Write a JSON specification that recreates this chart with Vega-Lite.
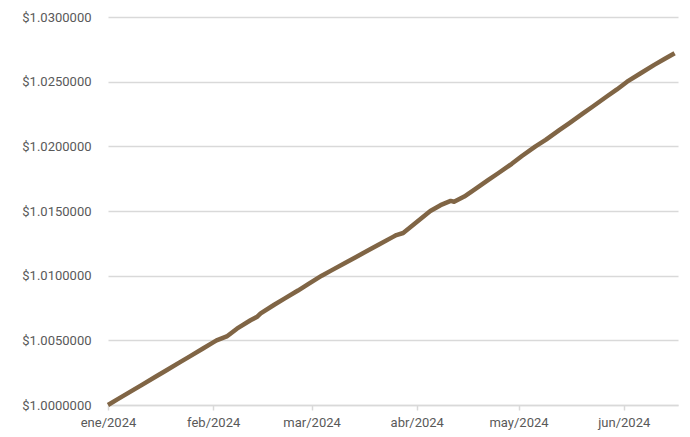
{
  "$schema": "https://vega.github.io/schema/vega-lite/v6.json",
  "width": 570,
  "height": 388,
  "autosize": {"type": "none"},
  "padding": {"left": 108, "top": 17, "right": 12, "bottom": 32},
  "background": "white",
  "config": {"view": {"stroke": null}, "font": "Roboto"},
  "data": {"values": [
    {"date": "2024-01-01", "value": 1.00000},
    {"date": "2024-01-04", "value": 1.00047},
    {"date": "2024-01-08", "value": 1.00109},
    {"date": "2024-01-11", "value": 1.00156},
    {"date": "2024-01-15", "value": 1.00218},
    {"date": "2024-01-18", "value": 1.00265},
    {"date": "2024-01-22", "value": 1.00328},
    {"date": "2024-01-25", "value": 1.00374},
    {"date": "2024-01-29", "value": 1.00437},
    {"date": "2024-02-01", "value": 1.00484},
    {"date": "2024-02-02", "value": 1.00500},
    {"date": "2024-02-05", "value": 1.00530},
    {"date": "2024-02-08", "value": 1.00590},
    {"date": "2024-02-12", "value": 1.00655},
    {"date": "2024-02-14", "value": 1.00683},
    {"date": "2024-02-15", "value": 1.00708},
    {"date": "2024-02-19", "value": 1.00775},
    {"date": "2024-02-22", "value": 1.00822},
    {"date": "2024-02-26", "value": 1.00885},
    {"date": "2024-02-29", "value": 1.00935},
    {"date": "2024-03-04", "value": 1.01000},
    {"date": "2024-03-07", "value": 1.01043},
    {"date": "2024-03-11", "value": 1.01100},
    {"date": "2024-03-14", "value": 1.01143},
    {"date": "2024-03-18", "value": 1.01200},
    {"date": "2024-03-21", "value": 1.01243},
    {"date": "2024-03-25", "value": 1.01300},
    {"date": "2024-03-26", "value": 1.01314},
    {"date": "2024-03-28", "value": 1.01330},
    {"date": "2024-04-01", "value": 1.01415},
    {"date": "2024-04-05", "value": 1.01500},
    {"date": "2024-04-08", "value": 1.01545},
    {"date": "2024-04-11", "value": 1.01578},
    {"date": "2024-04-12", "value": 1.01572},
    {"date": "2024-04-15", "value": 1.01612},
    {"date": "2024-04-18", "value": 1.01665},
    {"date": "2024-04-22", "value": 1.01738},
    {"date": "2024-04-25", "value": 1.01792},
    {"date": "2024-04-29", "value": 1.01865},
    {"date": "2024-05-02", "value": 1.01925},
    {"date": "2024-05-06", "value": 1.02000},
    {"date": "2024-05-09", "value": 1.02050},
    {"date": "2024-05-13", "value": 1.02125},
    {"date": "2024-05-16", "value": 1.02180},
    {"date": "2024-05-20", "value": 1.02255},
    {"date": "2024-05-23", "value": 1.02310},
    {"date": "2024-05-27", "value": 1.02385},
    {"date": "2024-05-30", "value": 1.02440},
    {"date": "2024-06-02", "value": 1.02500},
    {"date": "2024-06-06", "value": 1.02565},
    {"date": "2024-06-10", "value": 1.02630},
    {"date": "2024-06-13", "value": 1.02675},
    {"date": "2024-06-16", "value": 1.02720}
  ]},
  "mark": {"type": "line", "color": "#806545", "strokeWidth": 4.5, "strokeCap": "butt", "strokeJoin": "round"},
  "encoding": {
    "x": {
      "field": "date",
      "type": "temporal",
      "scale": {"type": "utc", "domain": [{"year": 2024, "month": 1, "date": 1, "utc": true}, {"year": 2024, "month": 6, "date": 17, "utc": true}], "nice": false},
      "axis": {
        "title": null,
        "grid": false,
        "values": [
          {"year": 2024, "month": 1, "date": 1, "utc": true},
          {"year": 2024, "month": 2, "date": 1, "utc": true},
          {"year": 2024, "month": 3, "date": 1, "utc": true},
          {"year": 2024, "month": 4, "date": 1, "utc": true},
          {"year": 2024, "month": 5, "date": 1, "utc": true},
          {"year": 2024, "month": 6, "date": 1, "utc": true}
        ],
        "labelExpr": "['ene','feb','mar','abr','may','jun','jul','ago','sep','oct','nov','dic'][utcmonth(datum.value)] + '/' + utcyear(datum.value)",
        "domainColor": "#d9d9d9",
        "domainWidth": 1.5,
        "tickColor": "#d9d9d9",
        "tickWidth": 1.5,
        "tickSize": 5,
        "labelColor": "#595959",
        "labelFontSize": 13,
        "labelPadding": 6,
        "labelFlush": false
      }
    },
    "y": {
      "field": "value",
      "type": "quantitative",
      "scale": {"domain": [1.0, 1.03], "nice": false, "zero": false},
      "axis": {
        "title": null,
        "values": [1.0, 1.005, 1.01, 1.015, 1.02, 1.025, 1.03],
        "format": "$.7f",
        "domain": false,
        "ticks": false,
        "gridColor": "#d9d9d9",
        "gridWidth": 1.5,
        "labelColor": "#595959",
        "labelFontSize": 13,
        "labelPadding": 17
      }
    }
  }
}
